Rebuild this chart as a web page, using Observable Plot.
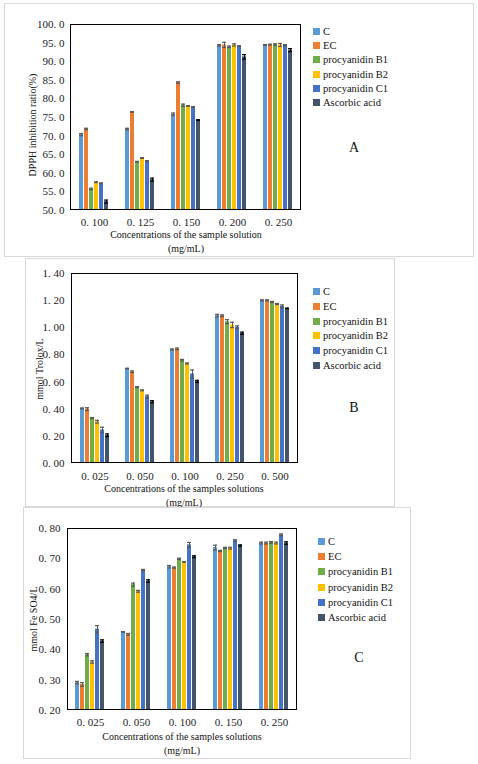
<!DOCTYPE html>
<html><head><meta charset="utf-8">
<script src="https://cdn.jsdelivr.net/npm/d3@7"></script>
<script src="https://cdn.jsdelivr.net/npm/@observablehq/plot@0.6"></script>
<style>
body{margin:0;background:#fff;}
#page{position:relative;width:478px;height:764px;font-family:"Times New Roman","Liberation Serif","DejaVu Serif",serif;color:#111;}
.panel{position:absolute;border:1px solid #d9d9d9;box-sizing:border-box;}
.abs{position:absolute;white-space:nowrap;}
.ctr{transform:translate(-50%,-50%);}
.rot{transform:translate(-50%,-50%) rotate(-90deg);}
.leg{position:absolute;font-size:10.5px;line-height:12px;white-space:nowrap;}
.sw{display:inline-block;width:7px;height:7px;margin-right:3px;vertical-align:0px;}
svg{position:absolute;overflow:visible;}
</style></head>
<body><div id="page"></div>
<script>
// ---- shared ----
const series = ["C","EC","procyanidin B1","procyanidin B2","procyanidin C1","Ascorbic acid"];
const colors = ["#5B9BD5","#ED7D31","#70AD47","#FFC000","#4472C4","#44546A"];

// ---- Panel A: DPPH ----
const concA = ["0. 100","0. 125","0. 150","0. 200","0. 250"];
const dpphMean = [
  [70.4, 71.9, 75.9, 94.4, 94.5],
  [71.9, 76.5, 84.4, 94.5, 94.6],
  [55.8, 63.1, 78.3, 94.0, 94.6],
  [57.6, 64.1, 78.1, 94.5, 94.5],
  [57.3, 63.3, 77.8, 94.2, 94.4],
  [52.4, 58.3, 74.3, 91.3, 93.1]
];
const dpphErr = [
  [0.3, 0.2, 0.3, 0.2, 0.1],
  [0.2, 0.1, 0.2, 0.7, 0.1],
  [0.2, 0.1, 0.3, 0.2, 0.2],
  [0.1, 0.1, 0.1, 0.3, 0.4],
  [0.1, 0.1, 0.1, 0.1, 0.2],
  [0.4, 0.4, 0.1, 0.6, 0.4]
];
const dpphTicks = [50,55,60,65,70,75,80,85,90,95,100];

// ---- Panel B: Trolox ----
const concB = ["0. 025","0. 050","0. 100","0. 250","0. 500"];
const troloxMean = [
  [0.406, 0.700, 0.840, 1.089, 1.202],
  [0.401, 0.676, 0.845, 1.089, 1.202],
  [0.335, 0.563, 0.761, 1.045, 1.190],
  [0.308, 0.539, 0.737, 1.021, 1.175],
  [0.247, 0.494, 0.659, 1.004, 1.158],
  [0.208, 0.455, 0.605, 0.960, 1.143]
];
const troloxErr = [
  [0.003, 0.002, 0.004, 0.010, 0.004],
  [0.010, 0.006, 0.006, 0.006, 0.004],
  [0.004, 0.003, 0.006, 0.015, 0.004],
  [0.010, 0.003, 0.004, 0.020, 0.004],
  [0.020, 0.010, 0.030, 0.010, 0.010],
  [0.010, 0.008, 0.008, 0.008, 0.002]
];
const troloxTicks = [0,0.2,0.4,0.6,0.8,1.0,1.2,1.4];

// ---- Panel C: FeSO4 ----
const concC = ["0. 025","0. 050","0. 100","0. 150","0. 250"];
const feMean = [
  [0.292, 0.459, 0.674, 0.737, 0.752],
  [0.286, 0.451, 0.671, 0.726, 0.752],
  [0.384, 0.615, 0.700, 0.736, 0.754],
  [0.360, 0.593, 0.690, 0.735, 0.752],
  [0.468, 0.663, 0.746, 0.760, 0.779],
  [0.429, 0.627, 0.707, 0.744, 0.752]
];
const feErr = [
  [0.004, 0.001, 0.004, 0.008, 0.003],
  [0.006, 0.003, 0.002, 0.002, 0.003],
  [0.004, 0.005, 0.002, 0.002, 0.003],
  [0.004, 0.003, 0.001, 0.003, 0.003],
  [0.012, 0.002, 0.008, 0.003, 0.003],
  [0.004, 0.004, 0.003, 0.002, 0.004]
];
const feTicks = [0.2,0.3,0.4,0.5,0.6,0.7,0.8];

const page = document.getElementById("page");
const FONT = '"Times New Roman","Liberation Serif","DejaVu Serif",serif';

function el(cls, text, css){
  const d = document.createElement("div");
  d.className = cls; d.textContent = text;
  Object.assign(d.style, css); page.appendChild(d); return d;
}

function panel(cfg){
  el("panel","",{left:cfg.box[0]+"px",top:cfg.box[1]+"px",width:(cfg.box[2]-cfg.box[0])+"px",height:(cfg.box[3]-cfg.box[1])+"px"});
  const rows = [];
  cfg.conc.forEach((c,i)=>series.forEach((s,j)=>rows.push({conc:c, series:s, v:cfg.mean[j][i], e:cfg.err[j][i]})));
  const base = cfg.ticks[0];
  const fmt = v => d3.format(cfg.fmt)(v).replace(".", ". ");
  const errColor = d => d.series === "Ascorbic acid" ? "#000" : "#595959";
  const p = Plot.plot({
    width: cfg.W, height: cfg.H,
    marginLeft: cfg.m[0], marginTop: cfg.m[1], marginRight: cfg.m[2], marginBottom: cfg.m[3],
    style:{fontFamily: FONT, fontSize:"11px", color:"#1a1a1a", background:"transparent"},
    fx:{domain: cfg.conc, padding: 0, label: null, tickSize: 0, tickPadding: cfg.xpad, axis:"bottom"},
    x:{domain: series, paddingInner: 0.17, paddingOuter: 0.93, axis: null},
    y:{domain:[cfg.ticks[0], cfg.ticks[cfg.ticks.length-1]], ticks: cfg.ticks, tickFormat: fmt, tickSize: 0, tickPadding: cfg.ypad, label: null},
    color:{domain: series, range: colors},
    marks:[
      Plot.barY(rows,{fx:"conc", x:"series", y1: () => base, y2:"v", fill:"series"}),
      Plot.ruleX(rows,{fx:"conc", x:"series", y1: d => d.v - d.e, y2: d => d.v + d.e, stroke: errColor, strokeWidth: 1}),
      Plot.tickY(rows,{fx:"conc", x:"series", y: d => d.v - d.e, stroke: errColor, strokeWidth: 1.2}),
      Plot.tickY(rows,{fx:"conc", x:"series", y: d => d.v + d.e, stroke: errColor, strokeWidth: 1.2})
    ]
  });
  p.style.left = cfg.pos[0]+"px"; p.style.top = cfg.pos[1]+"px";
  d3.select(p).append("rect")
    .attr("x", cfg.m[0]+0.5).attr("y", cfg.m[1]+0.5)
    .attr("width", cfg.W - cfg.m[0] - cfg.m[2] - 1).attr("height", cfg.H - cfg.m[1] - cfg.m[3] - 1)
    .attr("fill","none").attr("stroke","#000").attr("stroke-width",1);
  page.appendChild(p);
  el("abs ctr", cfg.xtitle, {left:cfg.xt[0]+"px", top:cfg.xt[1]+"px", fontSize:"10px"});
  el("abs ctr", "(mg/mL)", {left:cfg.xt[0]+"px", top:(cfg.xt[1]+13.5)+"px", fontSize:"10px"});
  el("abs rot", cfg.ytitle, {left:cfg.yt[0]+"px", top:cfg.yt[1]+"px", fontSize:"10px"});
  series.forEach((s,j)=>{
    const d = el("leg","",{left:cfg.leg[0]+"px", top:(cfg.leg[1]+j*cfg.leg[2]-6)+"px"});
    const sw = document.createElement("span"); sw.className="sw"; sw.style.background = colors[j];
    d.appendChild(sw); d.appendChild(document.createTextNode(s));
  });
  el("abs ctr", cfg.letter, {left:cfg.lt[0]+"px", top:cfg.lt[1]+"px", fontSize:"14px"});
}

panel({box:[4,3,474,257], pos:[0,0], W:320, H:256, m:[70,24,19,46], conc:concA, mean:dpphMean, err:dpphErr, ticks:dpphTicks, fmt:".1f", xpad:8, ypad:7,
  xtitle:"Concentrations of the sample solution", xt:[186,234], ytitle:"DPPH inhibition ratio(%)", yt:[32,125],
  leg:[313,32,14.2], letter:"A", lt:[354,148]});
panel({box:[25,258,395,507], pos:[0,258], W:320, H:250, m:[71,15,22,45], conc:concB, mean:troloxMean, err:troloxErr, ticks:troloxTicks, fmt:".2f", xpad:9, ypad:8,
  xtitle:"Concentrations of the samples  solutions", xt:[184,488], ytitle:"mmol Trolox/L", yt:[39,369],
  leg:[313,292,14.8], letter:"B", lt:[354,408]});
panel({box:[23,507,411,759], pos:[0,507], W:320, H:250, m:[67,21,23,47], conc:concC, mean:feMean, err:feErr, ticks:feTicks, fmt:".2f", xpad:8, ypad:7,
  xtitle:"Concentrations of the samples  solutions", xt:[182,736], ytitle:"mmol Fe SO4/L", yt:[33,619],
  leg:[318,542,15.2], letter:"C", lt:[359,658]});
</script></body></html>
